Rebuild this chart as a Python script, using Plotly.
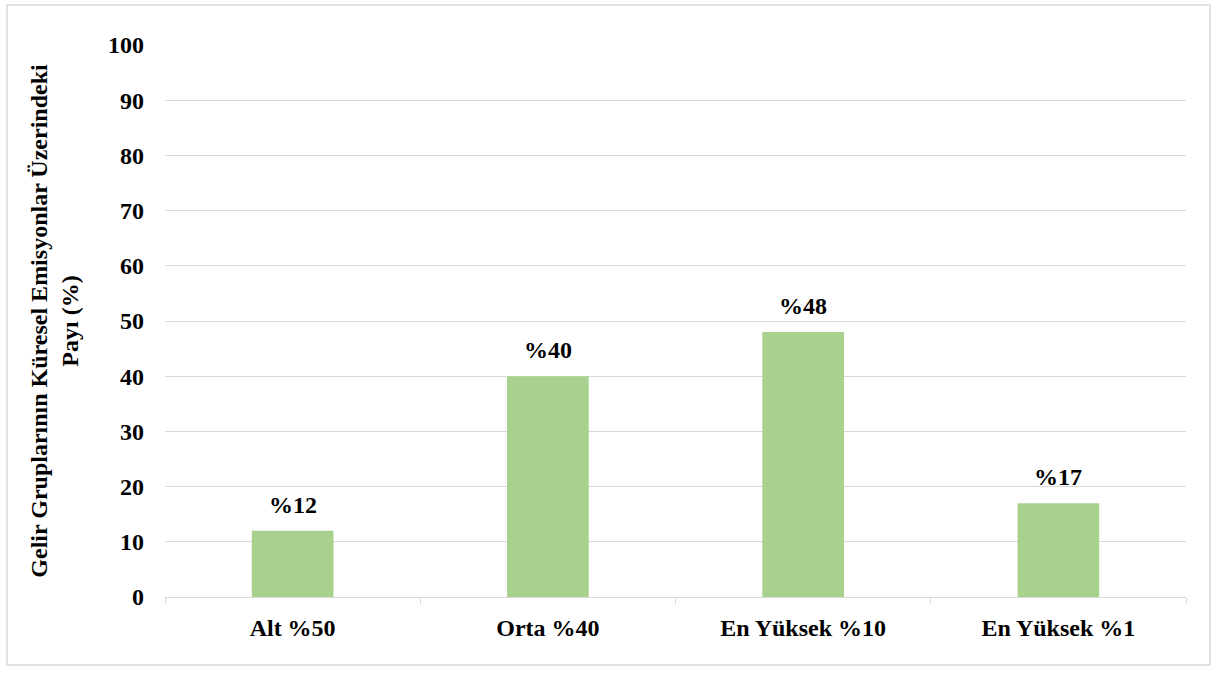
import plotly.graph_objects as go

categories = ["Alt %50", "Orta %40", "En Yüksek %10", "En Yüksek %1"]
values = [12, 40, 48, 17]
labels = ["%" + str(v) for v in values]
y_title = "Gelir Gruplarının Küresel Emisyonlar Üzerindeki<br>Payı (%)"

FONT = "Liberation Serif"
GRID = "#d9d9d9"
FS = 24

fig = go.Figure()
fig.add_trace(go.Bar(
    x=categories, y=values,
    marker=dict(color="#A9D18E", line=dict(width=0)),
    width=0.32,
))

for c, v, t in zip(categories, values, labels):
    fig.add_annotation(
        x=c, y=v, text=t, showarrow=False, yanchor="bottom", yshift=11,
        font=dict(family=FONT, size=FS, color="black", weight="bold"),
    )

L, R, T, B = 165, 31, 45, 78
W, H = 1217, 675
pw, ph = W - L - R, H - T - B

fig.update_layout(
    width=W, height=H,
    margin=dict(l=L, r=R, t=T, b=B, autoexpand=False),
    paper_bgcolor="white", plot_bgcolor="white",
    font=dict(family=FONT, size=FS, color="black"),
    showlegend=False,
    shapes=[dict(
        type="rect", xref="paper", yref="paper",
        x0=(7 - L) / pw, x1=(1210 - L) / pw,
        y0=(H - B - 665) / ph, y1=(H - B - 5) / ph,
        line=dict(color=GRID, width=1.5), fillcolor="rgba(0,0,0,0)", layer="below",
    )],
)
fig.update_xaxes(
    showgrid=False, showline=True, linecolor=GRID, linewidth=1,
    ticks="outside", tickson="boundaries", ticklen=6, tickcolor=GRID,
    ticklabelstandoff=9,
    tickfont=dict(family=FONT, size=FS, color="black", weight="bold"),
    automargin=False,
)
fig.update_yaxes(
    range=[0, 100], dtick=10, showgrid=True, gridcolor=GRID, gridwidth=1,
    zeroline=False, showline=False, ticks="", ticklabelstandoff=20,
    tickfont=dict(family=FONT, size=FS, color="black", weight="bold"),
    title=dict(text=y_title, standoff=22,
               font=dict(family=FONT, size=FS, color="black", weight="bold")),
    automargin=False,
)

fig.write_html("out.html", config={"displayModeBar": False},
               post_script="document.body.style.margin='0';")
